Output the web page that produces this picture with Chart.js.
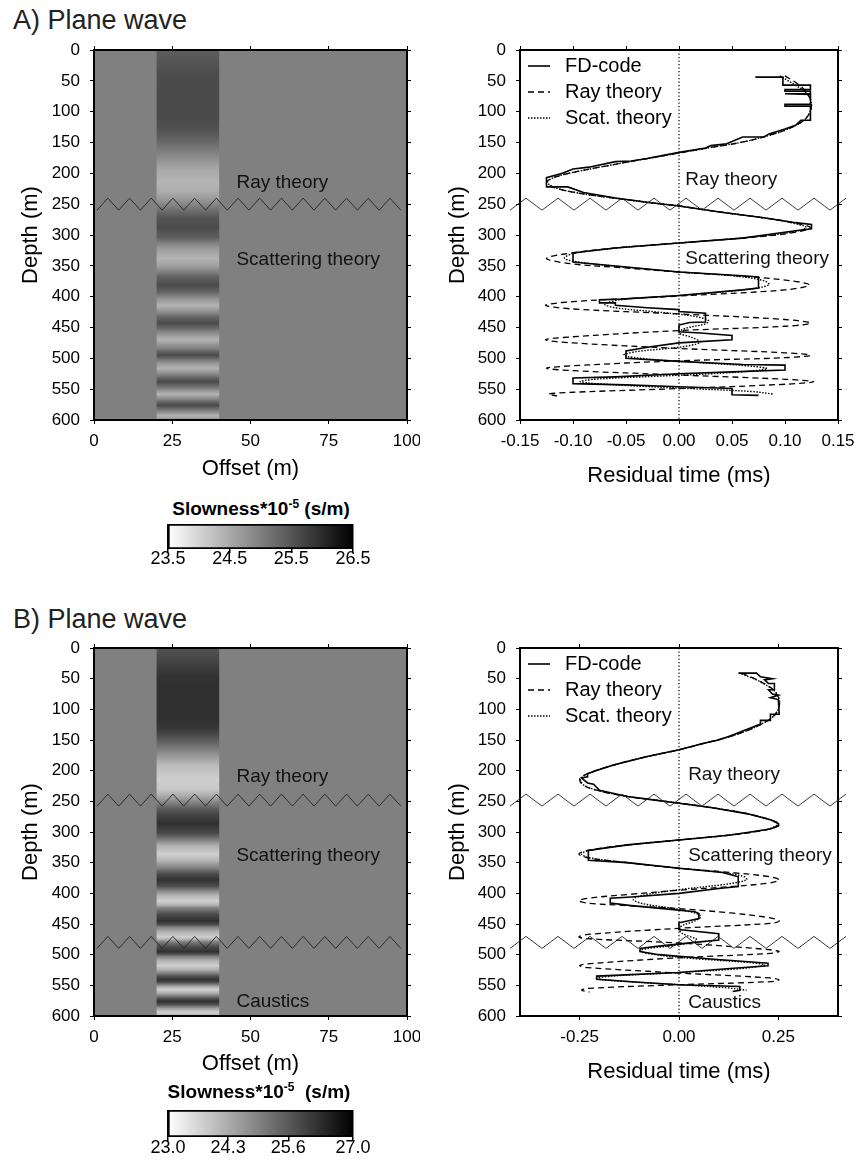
<!DOCTYPE html>
<html>
<head>
<meta charset="utf-8">
<title>Plane wave residual times</title>
<script src="https://cdn.jsdelivr.net/npm/chart.js@4.4.1/dist/chart.umd.min.js"></script>
<style>
  body { margin: 0; background: #fff; }
  #fig { position: relative; width: 855px; height: 1162px; font-family: "Liberation Sans", Arial, Helvetica, sans-serif; color: #000; }
  #fig canvas { position: absolute; }
  .panel-title { position: absolute; left: 13px; font-size: 27px; line-height: 27px; color: #222; white-space: nowrap; }
  .bar-title { position: absolute; width: 300px; text-align: center; font-size: 19px; line-height: 19px; font-weight: bold; white-space: nowrap; }
  .bar-title span { font-size: 12px; position: relative; top: -7px; }
</style>
</head>
<body>
<div id="fig">
  <div class="panel-title" style="top:7px">A) Plane wave</div>
  <canvas id="sectionA" width="420" height="450" style="left:0;top:40px"></canvas>
  <canvas id="residualA" width="435" height="450" style="left:420px;top:40px"></canvas>
  <div class="bar-title" style="left:111px;top:499px">Slowness*10<span>-5</span> (s/m)</div>
  <canvas id="barA" width="225" height="55" style="left:150px;top:519px"></canvas>

  <div class="panel-title" style="top:606px">B) Plane wave</div>
  <canvas id="sectionB" width="420" height="450" style="left:0;top:638px"></canvas>
  <canvas id="residualB" width="435" height="450" style="left:420px;top:638px"></canvas>
  <div class="bar-title" style="left:109px;top:1082px">Slowness*10<span>-5</span>&nbsp; (s/m)</div>
  <canvas id="barB" width="225" height="55" style="left:150px;top:1105px"></canvas>
</div>

<script>
const SANS = '"Liberation Sans", Arial, Helvetica, sans-serif'
Chart.defaults.font.family = SANS
Chart.defaults.color = '#000'
Chart.defaults.animation = false
Chart.defaults.plugins.legend.display = false
Chart.defaults.plugins.tooltip.enabled = false

// ---------- slowness model (x 1e-5 s/m) ----------
const stripeOffset = [20, 40]          // anomaly between these offsets (m)
const backgroundSlowness = 25.0
const colorbarTicksA = [23.5, 24.5, 25.5, 26.5]
const colorbarTicksB = [23.0, 24.3, 25.6, 27.0]

const sectionDepthA = [
  0, 15, 40, 60, 110,
  125, 140, 153, 166, 180,
  195, 213, 228, 240, 253,
  262, 272, 288, 304, 313,
  322, 338, 350, 360, 368,
  381, 392, 399, 405, 414,
  422, 428, 434, 443, 451,
  456, 462, 470, 477, 484,
  489, 495, 500, 504, 509,
  516, 522, 527, 532, 538,
  544, 549, 553, 558, 563,
  567, 571, 576, 581, 585,
  589, 593, 597, 600]
const sectionSlownessA = [
  25.40, 25.48, 25.60, 25.62, 25.62,
  25.58, 25.42, 25.22, 25.00, 24.75,
  24.50, 24.38, 24.45, 24.65, 25.00,
  25.25, 25.50, 25.62, 25.40, 25.00,
  24.68, 24.38, 24.62, 25.00, 25.35,
  25.62, 25.35, 25.00, 24.70, 24.38,
  24.70, 25.00, 25.35, 25.62, 25.30,
  25.00, 24.70, 24.38, 24.70, 25.00,
  25.35, 25.62, 25.30, 25.00, 24.70,
  24.38, 24.70, 25.00, 25.35, 25.62,
  25.30, 25.00, 24.70, 24.38, 24.70,
  25.00, 25.35, 25.62, 25.30, 25.00,
  24.70, 24.38, 24.60, 24.80]

const sectionDepthB = [
  0, 20, 45, 60, 115,
  130, 142, 155, 166, 178,
  192, 214, 230, 242, 253,
  262, 272, 286, 302, 313,
  323, 336, 347, 359, 368,
  378, 388, 395, 403, 412,
  419, 424, 434, 445, 451,
  455, 463, 471, 475, 479,
  487, 495, 499, 503, 510,
  518, 524, 530, 536, 541,
  545, 549, 553, 557, 562,
  567, 572, 576, 581, 585,
  590, 594, 600]
const sectionSlownessB = [
  25.70, 25.90, 26.20, 26.25, 26.25,
  26.15, 25.85, 25.40, 25.00, 24.55,
  24.05, 23.75, 23.85, 24.35, 25.00,
  25.55, 25.95, 26.25, 25.85, 25.00,
  24.20, 23.75, 24.20, 25.00, 25.80,
  26.25, 25.80, 25.00, 24.20, 23.75,
  24.20, 25.00, 25.80, 26.25, 25.80,
  25.00, 24.20, 23.75, 24.20, 25.00,
  25.80, 26.25, 25.80, 25.00, 24.20,
  23.75, 24.20, 25.00, 25.80, 26.25,
  25.80, 25.00, 24.20, 23.75, 24.20,
  25.00, 25.80, 26.25, 25.80, 25.00,
  24.20, 23.75, 24.20]

// ---------- residual times (ms) against depth (m) ----------
const fdDepthA = [
  44, 44, 57, 57, 64,
  64, 67, 67, 71, 71,
  72, 88, 88, 91, 91,
  114, 114, 122, 128, 136,
  141, 141, 152, 155, 159,
  166, 176, 180, 181, 190,
  193, 200, 207, 222, 222,
  231, 240, 247, 253, 263,
  272, 280, 283, 290, 293,
  305, 313, 321, 329, 344,
  347, 352, 360, 366, 368,
  386, 389, 398, 404, 405,
  410, 410, 414, 418, 421,
  424, 427, 441, 442, 446,
  457, 459, 463, 470, 475,
  482, 488, 500, 505, 510,
  511, 519, 522, 525, 530,
  532, 541, 543, 546, 549,
  559, 560]
const fdTimeA = [
  0.072, 0.098, 0.098, 0.124, 0.124,
  0.100, 0.100, 0.124, 0.124, 0.100,
  0.124, 0.124, 0.100, 0.100, 0.124,
  0.124, 0.115, 0.110, 0.100, 0.085,
  0.080, 0.060, 0.045, 0.030, 0.025,
  0.000, -0.030, -0.045, -0.060, -0.085,
  -0.100, -0.110, -0.125, -0.125, -0.105,
  -0.090, -0.060, -0.030, 0.000, 0.040,
  0.080, 0.110, 0.125, 0.125, 0.110,
  0.060, 0.000, -0.060, -0.100, -0.100,
  -0.080, -0.050, 0.000, 0.060, 0.075,
  0.075, 0.060, 0.000, -0.055, -0.075,
  -0.075, -0.060, -0.060, -0.030, 0.000,
  0.000, 0.025, 0.025, 0.010, 0.000,
  0.000, 0.020, 0.050, 0.050, 0.000,
  -0.030, -0.050, -0.050, 0.000, 0.060,
  0.100, 0.100, 0.050, 0.000, -0.060,
  -0.100, -0.100, -0.050, 0.000, 0.050,
  0.050, 0.075]

const rayDepthA = [
  42, 55, 68, 80, 90,
  103, 115, 128, 140, 150,
  158, 167, 176, 186, 196,
  205, 214, 223, 232, 240,
  247, 253, 263, 271, 279,
  288, 297, 305, 313, 321,
  330, 338, 346, 353, 360,
  367, 374, 381, 389, 399,
  408, 414, 420, 428, 437,
  443, 448, 455, 465, 470,
  475, 484, 491, 495, 499,
  504, 512, 516, 520, 527,
  534, 538, 542, 549, 555,
  558, 561]
const rayTimeA = [
  0.100, 0.112, 0.120, 0.124, 0.125,
  0.123, 0.117, 0.103, 0.082, 0.058,
  0.030, 0.000, -0.030, -0.062, -0.093,
  -0.115, -0.125, -0.118, -0.095, -0.062,
  -0.030, 0.000, 0.040, 0.075, 0.105,
  0.124, 0.105, 0.060, 0.000, -0.060,
  -0.105, -0.125, -0.105, -0.055, 0.000,
  0.060, 0.105, 0.123, 0.100, 0.000,
  -0.100, -0.126, -0.100, 0.000, 0.100,
  0.124, 0.100, 0.000, -0.100, -0.126,
  -0.100, 0.000, 0.100, 0.124, 0.100,
  0.000, -0.100, -0.125, -0.100, 0.000,
  0.100, 0.127, 0.100, 0.000, -0.100,
  -0.123, -0.115]

const scatDepthA = [
  42, 55, 68, 80, 90,
  103, 115, 128, 140, 150,
  158, 167, 176, 186, 196,
  205, 214, 223, 232, 240,
  247, 253, 263, 271, 279,
  288, 297, 305, 313, 321,
  330, 338, 345, 352, 360,
  366, 374, 381, 389, 398,
  405, 412, 418, 425, 432,
  439, 444, 452, 459, 466,
  474, 482, 489, 495, 501,
  507, 513, 517, 523, 529,
  534, 538, 543, 549, 554,
  558]
const scatTimeA = [
  0.095, 0.108, 0.119, 0.124, 0.125,
  0.123, 0.117, 0.103, 0.082, 0.058,
  0.030, 0.000, -0.030, -0.062, -0.093,
  -0.115, -0.124, -0.117, -0.095, -0.062,
  -0.030, 0.000, 0.040, 0.075, 0.103,
  0.120, 0.100, 0.058, 0.000, -0.058,
  -0.100, -0.108, -0.090, -0.050, 0.000,
  0.050, 0.080, 0.085, 0.060, 0.000,
  -0.055, -0.070, -0.060, -0.020, 0.015,
  0.028, 0.025, 0.005, 0.000, 0.012,
  0.020, 0.000, -0.040, -0.052, -0.030,
  0.020, 0.070, 0.083, 0.050, -0.020,
  -0.080, -0.093, -0.060, 0.010, 0.070,
  0.089]

const fdDepthB = [
  41, 41, 47, 50, 52,
  58, 58, 68, 68, 75,
  77, 81, 84, 108, 108,
  118, 118, 124, 133, 143,
  150, 155, 166, 177, 190,
  200, 205, 210, 212, 220,
  222, 232, 242, 248, 253,
  260, 270, 280, 286, 290,
  295, 305, 313, 321, 330,
  335, 346, 350, 359, 366,
  373, 375, 389, 392, 400,
  406, 408, 416, 420, 425,
  430, 433, 441, 448, 459,
  466, 476, 480, 486, 490,
  495, 500, 507, 514, 518,
  523, 529, 535, 540, 545,
  549, 552, 558, 560]
const fdTimeB = [
  0.150, 0.195, 0.205, 0.235, 0.215,
  0.225, 0.240, 0.240, 0.225, 0.235,
  0.250, 0.230, 0.250, 0.252, 0.230,
  0.230, 0.205, 0.205, 0.170, 0.130,
  0.100, 0.065, 0.000, -0.080, -0.160,
  -0.210, -0.230, -0.230, -0.245, -0.230,
  -0.215, -0.200, -0.130, -0.060, 0.000,
  0.080, 0.170, 0.230, 0.250, 0.250,
  0.230, 0.130, 0.000, -0.130, -0.228,
  -0.228, -0.228, -0.130, 0.000, 0.110,
  0.149, 0.149, 0.149, 0.100, 0.000,
  -0.120, -0.173, -0.173, -0.120, -0.040,
  0.040, 0.050, 0.050, 0.000, 0.000,
  0.100, 0.100, 0.040, -0.050, -0.098,
  -0.098, -0.050, 0.080, 0.224, 0.224,
  0.120, 0.000, -0.207, -0.207, -0.100,
  0.000, 0.153, 0.153, 0.135]

const rayDepthB = [
  41, 50, 60, 70, 80,
  90, 102, 113, 125, 135,
  145, 155, 166, 177, 190,
  200, 208, 215, 224, 233,
  242, 248, 253, 260, 270,
  280, 287, 295, 305, 313,
  321, 330, 336, 342, 350,
  359, 366, 373, 378, 383,
  389, 395, 402, 408, 412,
  416, 420, 425, 432, 440,
  445, 449, 457, 467, 471,
  474, 481, 492, 495, 498,
  505, 515, 518, 521, 530,
  538, 541, 544, 549, 555,
  558, 561]
const rayTimeB = [
  0.158, 0.190, 0.220, 0.240, 0.250,
  0.253, 0.248, 0.235, 0.205, 0.170,
  0.125, 0.065, 0.000, -0.080, -0.160,
  -0.210, -0.240, -0.250, -0.240, -0.200,
  -0.130, -0.060, 0.000, 0.080, 0.170,
  0.230, 0.253, 0.230, 0.130, 0.000,
  -0.130, -0.230, -0.252, -0.230, -0.130,
  0.000, 0.130, 0.230, 0.252, 0.230,
  0.130, 0.000, -0.130, -0.230, -0.252,
  -0.230, -0.130, 0.000, 0.130, 0.230,
  0.252, 0.230, 0.000, -0.230, -0.252,
  -0.230, 0.000, 0.230, 0.252, 0.230,
  0.000, -0.230, -0.250, -0.230, 0.000,
  0.230, 0.252, 0.230, 0.000, -0.230,
  -0.245, -0.225]

const scatDepthB = [
  41, 50, 60, 70, 80,
  90, 102, 113, 125, 135,
  145, 155, 166, 177, 190,
  200, 208, 215, 224, 233,
  242, 248, 253, 260, 270,
  280, 287, 295, 305, 313,
  321, 330, 336, 342, 350,
  359, 366, 373, 378, 385,
  394, 403, 410, 417, 424,
  432, 438, 445, 452, 458,
  466, 476, 484, 490, 494,
  500, 507, 513, 517, 523,
  529, 535, 539, 544, 549,
  554, 558]
const scatTimeB = [
  0.150, 0.188, 0.218, 0.240, 0.250,
  0.253, 0.248, 0.235, 0.205, 0.170,
  0.125, 0.065, 0.000, -0.080, -0.160,
  -0.210, -0.238, -0.248, -0.238, -0.200,
  -0.130, -0.060, 0.000, 0.080, 0.170,
  0.228, 0.248, 0.225, 0.125, 0.000,
  -0.125, -0.225, -0.245, -0.225, -0.130,
  0.000, 0.110, 0.165, 0.170, 0.120,
  0.000, -0.090, -0.115, -0.090, -0.020,
  0.040, 0.055, 0.040, 0.010, 0.000,
  0.010, 0.045, 0.000, -0.080, -0.098,
  -0.060, 0.050, 0.180, 0.215, 0.150,
  0.000, -0.170, -0.210, -0.130, 0.000,
  0.120, 0.170]

// ---------- helpers ----------
const gray = (s, lo, hi) => {
  const v = Math.round(255 * Math.min(1, Math.max(0, (hi - s) / (hi - lo))))
  return `rgb(${v},${v},${v})`
}

// slowness section: grey background plus the depth-varying stripe
function sectionLayer(depth, slowness, ticks) {
  const lo = ticks[0]
  const hi = ticks[ticks.length - 1]
  return {
    id: 'section',
    beforeDraw(chart) {
      const { ctx, chartArea: area, scales: { x, y } } = chart
      ctx.save()
      ctx.fillStyle = gray(backgroundSlowness, lo, hi)
      ctx.fillRect(area.left, area.top, area.width, area.height)
      const top = y.getPixelForValue(depth[0])
      const bottom = y.getPixelForValue(depth[depth.length - 1])
      const ramp = ctx.createLinearGradient(0, top, 0, bottom)
      depth.forEach((d, i) => {
        ramp.addColorStop((y.getPixelForValue(d) - top) / (bottom - top), gray(slowness[i], lo, hi))
      })
      const left = x.getPixelForValue(stripeOffset[0])
      const right = x.getPixelForValue(stripeOffset[1])
      ctx.fillStyle = ramp
      ctx.fillRect(left, top, right - left, bottom - top)
      ctx.restore()
    }
  }
}

// zigzag markers where the validity regime changes
function breakLayer(depths, period, overhang) {
  return {
    id: 'breaks',
    afterDraw(chart) {
      const { ctx, chartArea: a, scales: { y } } = chart
      ctx.save()
      ctx.strokeStyle = '#222'
      ctx.lineWidth = 0.9
      depths.forEach(d => {
        const yc = y.getPixelForValue(d)
        const x0 = a.left - overhang[0]
        const x1 = a.right + overhang[1]
        ctx.beginPath()
        let k = 0
        for (let xp = x0; xp <= x1 + 0.01; xp += period / 2, k++) {
          const yp = yc + (k % 2 ? -6 : 6)
          if (k === 0) ctx.moveTo(xp, yp)
          else ctx.lineTo(xp, yp)
        }
        ctx.stroke()
      })
      ctx.restore()
    }
  }
}

function noteLayer(notes) {
  return {
    id: 'notes',
    afterDatasetsDraw(chart) {
      const { ctx, scales: { x, y } } = chart
      ctx.save()
      ctx.font = `19px ${SANS}`
      ctx.textBaseline = 'middle'
      ctx.fillStyle = '#111'
      notes.forEach(n => ctx.fillText(n.text, x.getPixelForValue(n.at[0]), y.getPixelForValue(n.at[1])))
      ctx.restore()
    }
  }
}

const insetLegend = {
  id: 'insetLegend',
  afterDraw(chart) {
    const { ctx, chartArea: a } = chart
    ctx.save()
    ctx.font = `20px ${SANS}`
    ctx.textBaseline = 'middle'
    ctx.fillStyle = '#000'
    chart.data.datasets.filter(ds => ds.label).forEach((ds, i) => {
      const yy = a.top + 16 + i * 26
      ctx.strokeStyle = '#000'
      ctx.lineWidth = ds.borderWidth
      ctx.setLineDash(ds.borderDash || [])
      ctx.beginPath()
      ctx.moveTo(a.left + 8, yy)
      ctx.lineTo(a.left + 30, yy)
      ctx.stroke()
      ctx.fillText(ds.label, a.left + 45, yy)
    })
    ctx.restore()
  }
}

// fixed axis box sizes, and no extra room for labels overhanging the frame
const fixWidth = w => s => { s.width = w; s.paddingTop = 0; s.paddingBottom = 0 }
const fixHeight = h => s => { s.height = h; s.paddingLeft = 0; s.paddingRight = 0 }

// framed depth axes with ticks on all four sides
function frameScales(o) {
  const grid = { drawOnChartArea: false, drawTicks: true, tickLength: 4, color: '#000', lineWidth: 1 }
  const border = { display: true, color: '#000', width: 2 }
  return {
    x: {
      type: 'linear', position: 'bottom', min: o.xMin, max: o.xMax, grid, border,
      ticks: { stepSize: o.xStep, includeBounds: false, padding: 7, maxRotation: 0, autoSkip: false, font: { size: 17 }, callback: o.xFormat },
      title: { display: true, text: o.xTitle, font: { size: 22 }, padding: { top: 0, bottom: o.xTitlePad } },
      afterFit: fixHeight(o.bottom)
    },
    x2: {
      type: 'linear', position: 'top', min: o.xMin, max: o.xMax, grid, border,
      ticks: { stepSize: o.xStep, includeBounds: false, display: false },
      afterFit: fixHeight(10)
    },
    y: {
      type: 'linear', position: 'left', min: 0, max: 600, reverse: true, grid, border,
      ticks: { stepSize: 50, padding: 10, autoSkip: false, font: { size: 17 } },
      title: { display: true, text: 'Depth (m)', font: { size: 22 }, padding: { top: o.yTitlePad, bottom: 0 } },
      afterFit: fixWidth(o.left)
    },
    y2: {
      type: 'linear', position: 'right', min: 0, max: 600, reverse: true, grid, border,
      ticks: { stepSize: 50, display: false },
      afterFit: fixWidth(o.right)
    }
  }
}

function sectionChart(id, depth, slowness, ticks, notes, breaks, xTitlePad, bottom) {
  return new Chart(document.getElementById(id), {
    type: 'scatter',
    data: { datasets: [] },
    options: {
      responsive: false,
      scales: frameScales({
        xMin: 0, xMax: 100, xStep: 25, xFormat: v => String(v), xTitle: 'Offset (m)',
        xTitlePad, yTitlePad: 18, left: 94, right: 13, bottom
      })
    },
    plugins: [sectionLayer(depth, slowness, ticks), noteLayer(notes), breakLayer(breaks, 21.7, [-3, 2])]
  })
}

function residualChart(id, curves, xMax, xStep, notes, breaks, xTitlePad, bottom) {
  const series = (depth, time) => depth.map((d, i) => ({ x: time[i], y: d }))
  const base = { showLine: true, pointRadius: 0, borderColor: '#000', backgroundColor: '#000' }
  return new Chart(document.getElementById(id), {
    type: 'scatter',
    data: {
      datasets: [
        { ...base, label: 'FD-code', data: series(curves.fd[0], curves.fd[1]), borderWidth: 1.6, tension: 0 },
        { ...base, label: 'Ray theory', data: series(curves.ray[0], curves.ray[1]), borderWidth: 1.3, borderDash: [6, 4], tension: 0.35 },
        { ...base, label: 'Scat. theory', data: series(curves.scat[0], curves.scat[1]), borderWidth: 1.4, borderDash: [1.5, 1.5], tension: 0.35 },
        { ...base, data: [{ x: 0, y: 0 }, { x: 0, y: 600 }], borderWidth: 1.2, borderDash: [1.2, 2.3] }
      ]
    },
    options: {
      responsive: false,
      scales: frameScales({
        xMin: -xMax, xMax, xStep, xFormat: v => v.toFixed(2), xTitle: 'Residual time (ms)',
        xTitlePad, yTitlePad: 25, left: 100, right: 17, bottom
      })
    },
    plugins: [noteLayer(notes), breakLayer(breaks, 32, [10, 10]), insetLegend]
  })
}

function colorbar(id, ticks, labelPad, axisHeight) {
  const lo = ticks[0]
  const hi = ticks[ticks.length - 1]
  return new Chart(document.getElementById(id), {
    type: 'bar',
    data: {
      labels: [''],
      datasets: [{
        data: [[lo, hi]],
        backgroundColor: ctx => {
          const { chart } = ctx
          if (!chart.chartArea) return '#888'
          const x = chart.scales.x
          const ramp = chart.ctx.createLinearGradient(x.getPixelForValue(lo), 0, x.getPixelForValue(hi), 0)
          ramp.addColorStop(0, gray(lo, lo, hi))
          ramp.addColorStop(1, gray(hi, lo, hi))
          return ramp
        },
        borderColor: '#000', borderWidth: 2, borderSkipped: false,
        barPercentage: 1, categoryPercentage: 1
      }]
    },
    options: {
      indexAxis: 'y',
      responsive: false,
      layout: { padding: { left: 18, right: 22, top: 5 } },
      scales: {
        y: { display: false },
        x: {
          type: 'linear', min: lo, max: hi, z: 1,
          afterBuildTicks: axis => { axis.ticks = ticks.map(value => ({ value })) },
          grid: { color: '#000', lineWidth: 1.5, drawTicks: true, tickLength: 4 },
          border: { display: false },
          ticks: { padding: labelPad, autoSkip: false, maxRotation: 0, font: { size: 18, lineHeight: 1 }, callback: v => v.toFixed(1) },
          afterFit: fixHeight(axisHeight)
        }
      }
    }
  })
}

// ---------- panel A ----------
sectionChart('sectionA', sectionDepthA, sectionSlownessA, colorbarTicksA,
  [{ text: 'Ray theory', at: [45.5, 216] }, { text: 'Scattering theory', at: [45.5, 340] }],
  [250], 8, 70)

residualChart('residualA',
  { fd: [fdDepthA, fdTimeA], ray: [rayDepthA, rayTimeA], scat: [scatDepthA, scatTimeA] },
  0.15, 0.05,
  [{ text: 'Ray theory', at: [0.006, 211] }, { text: 'Scattering theory', at: [0.006, 338] }],
  [250], 1, 70)

colorbar('barA', colorbarTicksA, -3, 25)

// ---------- panel B ----------
sectionChart('sectionB', sectionDepthB, sectionSlownessB, colorbarTicksB,
  [{ text: 'Ray theory', at: [45.5, 210] }, { text: 'Scattering theory', at: [45.5, 338] }, { text: 'Caustics', at: [45.5, 577] }],
  [248, 480], 11, 72)

residualChart('residualB',
  { fd: [fdDepthB, fdTimeB], ray: [rayDepthB, rayTimeB], scat: [scatDepthB, scatTimeB] },
  0.4, 0.25,
  [{ text: 'Ray theory', at: [0.023, 207] }, { text: 'Scattering theory', at: [0.023, 338] }, { text: 'Caustics', at: [0.023, 579] }],
  [248, 480], 3, 72)

colorbar('barB', colorbarTicksB, -2, 23)
</script>
</body>
</html>
